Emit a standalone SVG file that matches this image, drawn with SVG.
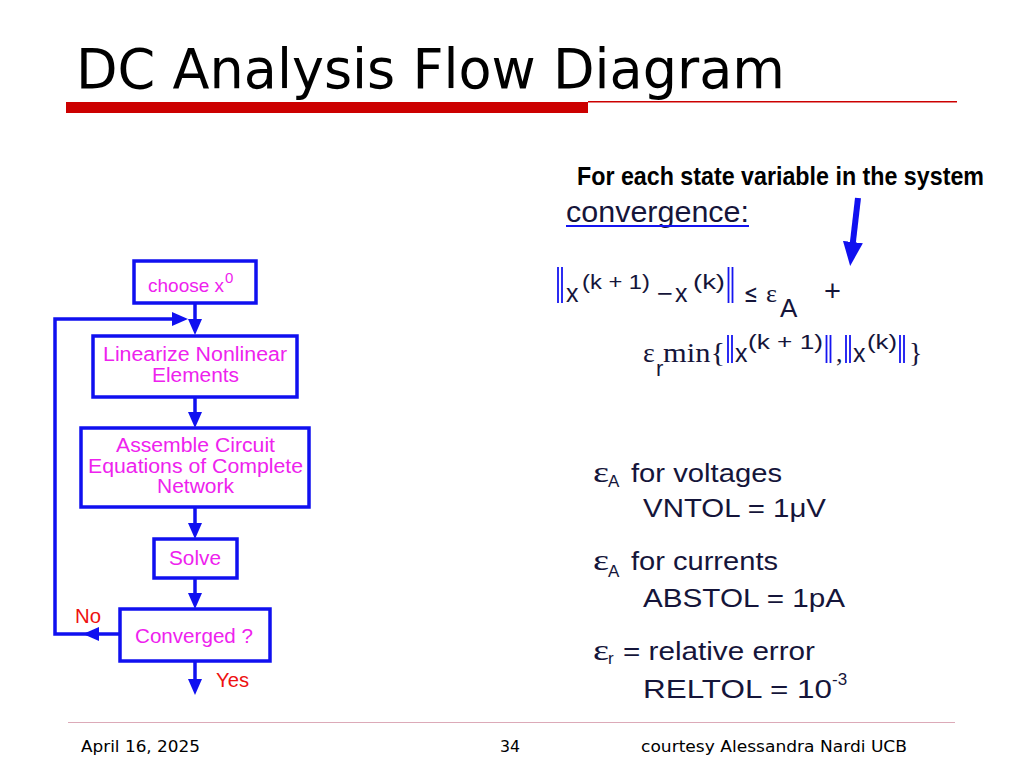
<svg xmlns="http://www.w3.org/2000/svg" width="1024" height="768" viewBox="0 0 1024 768">
<style>
.box{fill:#fff;stroke:#1010f0;stroke-width:3.5}
.lbl{font-family:"Liberation Sans",Arial,sans-serif;font-size:20px;fill:#ee22ee;text-anchor:middle}
.conn{fill:none;stroke:#1010f0;stroke-width:3.5}
.red{font-family:"Liberation Sans",Arial,sans-serif;font-size:20px;fill:#ee1111}
.m{font-family:"Liberation Sans",Arial,sans-serif;fill:#15153a}
.s{font-family:"Liberation Serif","Times New Roman",serif;fill:#15153a}
.d{font-family:"DejaVu Sans",sans-serif;fill:#15153a}
.bar{stroke:#1515f0;stroke-width:1.8}
.ft{font-family:"DejaVu Sans",Verdana,sans-serif;font-size:15px;fill:#000}
</style>
<defs>
<marker id="ah" markerUnits="userSpaceOnUse" viewBox="0 0 16 14" markerWidth="16" markerHeight="14" refX="8" refY="7" orient="auto">
<path d="M0,0 L16,7 L0,14 z" fill="#1010f0"/>
</marker>
<marker id="bh" markerUnits="userSpaceOnUse" viewBox="0 0 24 20" markerWidth="24" markerHeight="20" refX="8" refY="10" orient="auto">
<path d="M0,0 L24,10 L0,20 z" fill="#1010f0"/>
</marker>
</defs>
<rect width="1024" height="768" fill="#fff"/>

<g id="title">
<text x="76" y="88" font-family="DejaVu Sans,Verdana,sans-serif" font-size="55" textLength="709" lengthAdjust="spacingAndGlyphs" fill="#000">DC Analysis Flow Diagram</text>
<rect x="66" y="102" width="522" height="11" fill="#cc0000"/>
<rect x="588" y="101" width="369" height="1.5" fill="#cc0000"/>
</g>

<g id="connectors">
<path class="conn" d="M195,303 V327" marker-end="url(#ah)"/>
<path class="conn" d="M195,397 V420" marker-end="url(#ah)"/>
<path class="conn" d="M195,507 V531" marker-end="url(#ah)"/>
<path class="conn" d="M195,578 V601" marker-end="url(#ah)"/>
<path class="conn" d="M195,661 V687" marker-end="url(#ah)"/>
<path class="conn" d="M120,634 H91" marker-end="url(#ah)"/>
<path class="conn" d="M92,634 H55 V319 H180" marker-end="url(#ah)"/>
</g>

<g id="n-choose">
<rect class="box" x="134" y="261" width="122" height="42"/>
<text class="lbl" x="148" y="292" style="text-anchor:start;font-size:19px">choose x<tspan x="225" y="283" style="font-size:15px">0</tspan></text>
</g>
<g id="n-linearize">
<rect class="box" x="93" y="336" width="204" height="61"/>
<text class="lbl" x="195" y="361" textLength="184" lengthAdjust="spacingAndGlyphs">Linearize Nonlinear</text>
<text class="lbl" x="195.5" y="382" textLength="87" lengthAdjust="spacingAndGlyphs">Elements</text>
</g>
<g id="n-assemble">
<rect class="box" x="81" y="428" width="228" height="79"/>
<text class="lbl" x="195.5" y="452" textLength="159" lengthAdjust="spacingAndGlyphs">Assemble Circuit</text>
<text class="lbl" x="195.5" y="473" textLength="215" lengthAdjust="spacingAndGlyphs">Equations of Complete</text>
<text class="lbl" x="195.5" y="493" textLength="77" lengthAdjust="spacingAndGlyphs">Network</text>
</g>
<g id="n-solve">
<rect class="box" x="154" y="539" width="83" height="39"/>
<text class="lbl" x="195" y="565" textLength="52" lengthAdjust="spacingAndGlyphs">Solve</text>
</g>
<g id="n-converged">
<rect class="box" x="120" y="609" width="150" height="52"/>
<text class="lbl" x="194" y="643" textLength="118" lengthAdjust="spacingAndGlyphs">Converged ?</text>
</g>
<g id="labels">
<text class="red" x="75" y="623" textLength="26" lengthAdjust="spacingAndGlyphs">No</text>
<text class="red" x="216" y="687" textLength="33" lengthAdjust="spacingAndGlyphs">Yes</text>
</g>

<g id="note">
<text x="577" y="185" font-family="Liberation Sans,Arial,sans-serif" font-weight="bold" font-size="25" textLength="407" lengthAdjust="spacingAndGlyphs" fill="#000">For each state variable in the system</text>
<path d="M858,198 L852,250" stroke="#1010f0" stroke-width="6" fill="none" marker-end="url(#bh)"/>
</g>

<g id="convergence">
<text class="m" x="566" y="222" font-size="30" textLength="183" lengthAdjust="spacingAndGlyphs">convergence:</text>
<rect x="566" y="225" width="183" height="2" fill="#1515f0"/>
</g>

<g id="formula">
<line class="bar" x1="558" y1="267" x2="558" y2="303"/>
<line class="bar" x1="562" y1="267" x2="562" y2="303"/>
<text class="m" x="566" y="302" font-size="25">x</text>
<text class="m" x="582" y="289" font-size="21" textLength="68" lengthAdjust="spacingAndGlyphs">(k + 1)</text>
<text class="m" x="657" y="302" font-size="25" textLength="16" lengthAdjust="spacingAndGlyphs">−</text>
<text class="m" x="675" y="302" font-size="25">x</text>
<text class="m" x="693" y="289" font-size="21" textLength="32" lengthAdjust="spacingAndGlyphs">(k)</text>
<line class="bar" x1="728.5" y1="267" x2="728.5" y2="303"/>
<line class="bar" x1="732.5" y1="267" x2="732.5" y2="303"/>
<text class="d" x="744" y="302" font-size="25" textLength="14" lengthAdjust="spacingAndGlyphs">≤</text>
<text class="s" x="766" y="302" font-size="26">ε</text>
<text class="m" x="780" y="317" font-size="26">A</text>
<text class="m" x="824" y="301" font-size="29">+</text>

<text class="s" x="643" y="362" font-size="28">ε</text>
<text class="m" x="656" y="376" font-size="22">r</text>
<text class="s" x="663" y="362" font-size="28" textLength="62" lengthAdjust="spacingAndGlyphs">min{</text>
<line class="bar" x1="728" y1="335" x2="728" y2="363"/>
<line class="bar" x1="732" y1="335" x2="732" y2="363"/>
<text class="m" x="735" y="362" font-size="25">x</text>
<text class="m" x="748" y="349" font-size="21" textLength="75" lengthAdjust="spacingAndGlyphs">(k + 1)</text>
<line class="bar" x1="826.5" y1="335" x2="826.5" y2="363"/>
<line class="bar" x1="830.5" y1="335" x2="830.5" y2="363"/>
<text class="s" x="836" y="362" font-size="26">,</text>
<line class="bar" x1="846" y1="335" x2="846" y2="363"/>
<line class="bar" x1="850" y1="335" x2="850" y2="363"/>
<text class="m" x="853" y="362" font-size="25">x</text>
<text class="m" x="867" y="349" font-size="21" textLength="30" lengthAdjust="spacingAndGlyphs">(k)</text>
<line class="bar" x1="900" y1="335" x2="900" y2="363"/>
<line class="bar" x1="904" y1="335" x2="904" y2="363"/>
<text class="s" x="909" y="362" font-size="28">}</text>
</g>

<g id="tolerances">
<text class="s" x="593" y="482" font-size="30" textLength="16" lengthAdjust="spacingAndGlyphs">ε</text>
<text class="m" x="608" y="487" font-size="17">A</text>
<text class="m" x="631" y="482" font-size="25" textLength="151" lengthAdjust="spacingAndGlyphs">for voltages</text>
<text class="m" x="643" y="517" font-size="25" textLength="183" lengthAdjust="spacingAndGlyphs">VNTOL = 1μV</text>

<text class="s" x="593" y="570" font-size="30" textLength="16" lengthAdjust="spacingAndGlyphs">ε</text>
<text class="m" x="608" y="577" font-size="17">A</text>
<text class="m" x="631" y="570" font-size="25" textLength="147" lengthAdjust="spacingAndGlyphs">for currents</text>
<text class="m" x="643" y="607" font-size="25" textLength="202" lengthAdjust="spacingAndGlyphs">ABSTOL = 1pA</text>

<text class="s" x="593" y="660" font-size="30" textLength="16" lengthAdjust="spacingAndGlyphs">ε</text>
<text class="m" x="608" y="664" font-size="17">r</text>
<text class="m" x="623" y="660" font-size="25" textLength="192" lengthAdjust="spacingAndGlyphs">= relative error</text>
<text class="m" x="643" y="698" font-size="25" textLength="189" lengthAdjust="spacingAndGlyphs">RELTOL = 10</text>
<text class="m" x="832" y="685" font-size="17">-3</text>
</g>

<g id="footer">
<rect x="68" y="722" width="887" height="1" fill="#dcaab8"/>
<text class="ft" x="81" y="752" textLength="119" lengthAdjust="spacingAndGlyphs">April 16, 2025</text>
<text class="ft" x="500" y="752" textLength="20" lengthAdjust="spacingAndGlyphs">34</text>
<text class="ft" x="641" y="752" textLength="266" lengthAdjust="spacingAndGlyphs">courtesy Alessandra Nardi UCB</text>
</g>
</svg>
